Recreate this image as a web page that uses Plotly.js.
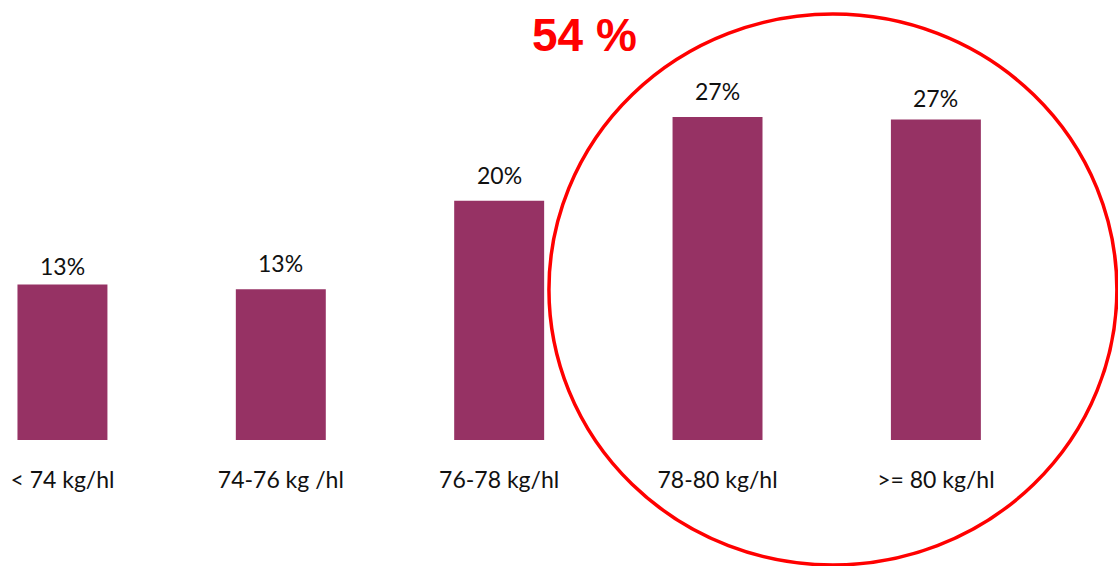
<!DOCTYPE html>
<html>
<head>
<meta charset="utf-8">
<script src="https://cdn.plot.ly/plotly-3.0.1.min.js"></script>
<style>
  html, body { margin: 0; padding: 0; background: #ffffff; }
  #chart { width: 1118px; height: 566px; }
</style>
</head>
<body>
<div id="chart"></div>
<script>
// Test weight classes and share of samples (%)
const categories = ['< 74 kg/hl', '74-76 kg /hl', '76-78 kg/hl', '78-80 kg/hl', '>= 80 kg/hl'];
const shares = [13.0, 12.6, 20.0, 27.0, 26.8];
const groupedShareLabel = '54 %';

const barColor = '#963264';
const labelFont = { family: 'Lato, "Open Sans", sans-serif', size: 23, color: '#111111' };
// vertical gap (px) between each bar top and its value label
const labelLift = [2, 10, 10, 10, 5];

const positions = categories.map((_, i) => i);

const trace = {
  type: 'bar',
  x: positions,
  y: shares,
  width: 0.412,
  marker: { color: barColor, line: { width: 0 } },
  hoverinfo: 'skip'
};

const valueLabels = shares.map((v, i) => ({
  x: positions[i],
  y: v,
  xref: 'x',
  yref: 'y',
  text: Math.round(v) + '%',
  showarrow: false,
  yanchor: 'bottom',
  yshift: labelLift[i],
  font: labelFont
}));

const layout = {
  width: 1118,
  height: 566,
  margin: { l: 0, r: 0, t: 0, b: 126 },
  paper_bgcolor: '#ffffff',
  plot_bgcolor: '#ffffff',
  showlegend: false,
  xaxis: {
    range: [-0.286, 4.834],
    tickmode: 'array',
    tickvals: positions,
    ticktext: categories,
    ticks: '',
    ticklabelstandoff: 24,
    showgrid: false,
    zeroline: false,
    showline: false,
    tickfont: labelFont,
    fixedrange: true
  },
  yaxis: {
    range: [0, 36.78],
    visible: false,
    fixedrange: true
  },
  annotations: valueLabels.concat([{
    x: 0.523,
    y: 0.92,
    xref: 'paper',
    yref: 'paper',
    text: '<b>' + groupedShareLabel + '</b>',
    showarrow: false,
    xanchor: 'center',
    yanchor: 'middle',
    font: { family: '"Liberation Sans", Arial, sans-serif', size: 46, color: '#ff0000' }
  }]),
  shapes: [{
    type: 'circle',
    xref: 'paper',
    yref: 'paper',
    x0: 0.491,
    x1: 0.999,
    y0: -0.284,
    y1: 0.968,
    line: { color: '#ff0000', width: 3.5 },
    fillcolor: 'rgba(0,0,0,0)'
  }]
};

Plotly.newPlot('chart', [trace], layout, { displayModeBar: false, staticPlot: true });
</script>
</body>
</html>
